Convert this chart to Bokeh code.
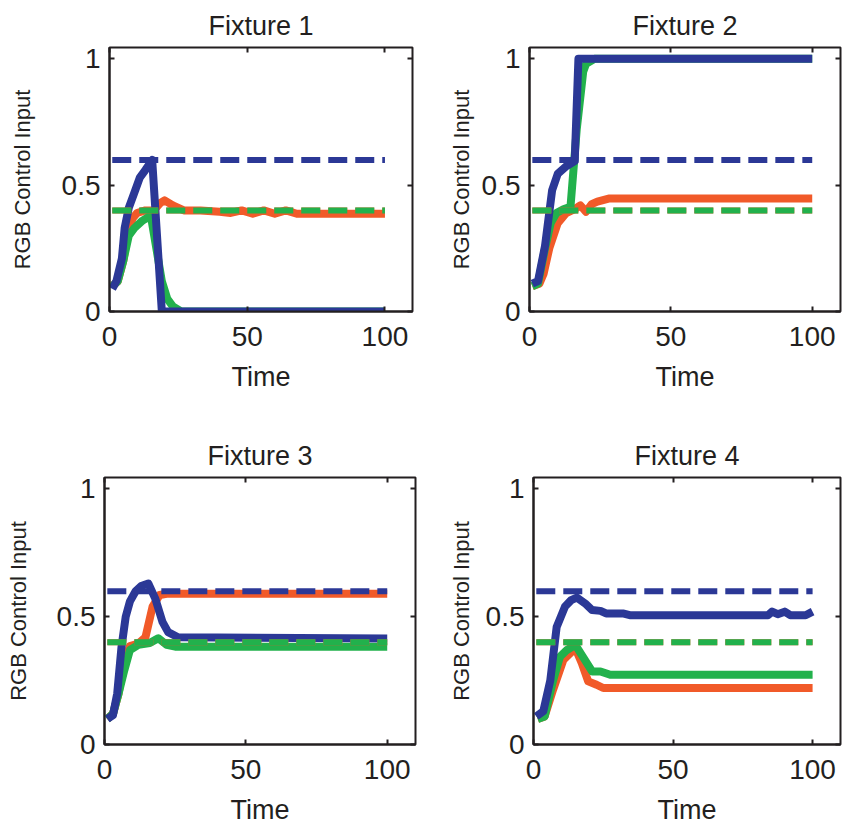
from bokeh.plotting import figure
from bokeh.layouts import column, row
from bokeh.models import Range1d, FixedTicker, LinearAxis, CustomJSTickFormatter
from bokeh.embed import file_html
from bokeh.resources import INLINE

# ---------------- data ----------------
titles = ["Fixture 1", "Fixture 2", "Fixture 3", "Fixture 4"]
x_ticks = [0, 50, 100]
y_ticks = [0, 0.5, 1]
target_t = [1, 100]
target_r = 0.4
target_g = 0.4
target_b = 0.6

# Fixture 1
f1_r_t = [1, 3, 5, 7, 8.5, 10, 13, 16, 18.5, 20, 23, 27, 33, 40, 44, 48, 52, 56, 60, 64, 68, 72, 100]
f1_r_y = [0.10, 0.12, 0.20, 0.33, 0.37, 0.39, 0.40, 0.40, 0.43, 0.44, 0.42, 0.40, 0.40, 0.395, 0.39, 0.40, 0.387, 0.40, 0.387, 0.40, 0.387, 0.387, 0.387]
f1_g_t = [1, 3, 5, 7, 9, 12, 15, 17, 19, 21, 23, 26, 100]
f1_g_y = [0.10, 0.12, 0.20, 0.30, 0.33, 0.36, 0.38, 0.25, 0.12, 0.05, 0.02, 0.0, 0.0]
f1_b_t = [1, 2.5, 4.5, 5.5, 7, 9, 11, 13, 15.5, 19, 100]
f1_b_y = [0.09, 0.12, 0.21, 0.33, 0.41, 0.47, 0.53, 0.56, 0.60, 0.0, 0.0]

# Fixture 2
f2_r_t = [1, 3.5, 5, 7, 10, 13, 16, 18, 20, 22, 24, 28, 100]
f2_r_y = [0.10, 0.11, 0.15, 0.25, 0.35, 0.39, 0.405, 0.42, 0.395, 0.425, 0.435, 0.447, 0.447]
f2_g_t = [1, 3, 5.5, 7.5, 9.5, 12, 14.5, 16.7, 19, 20, 23, 100]
f2_g_y = [0.10, 0.11, 0.25, 0.35, 0.39, 0.405, 0.415, 0.72, 0.95, 0.98, 1.0, 1.0]
f2_b_t = [1, 3, 5.5, 8, 10, 13, 16, 17.3, 100]
f2_b_y = [0.11, 0.12, 0.26, 0.48, 0.545, 0.575, 0.595, 1.0, 1.0]

# Fixture 3
f3_r_t = [1, 3, 5, 7, 9, 12, 14.5, 17, 19.5, 22, 100]
f3_r_y = [0.10, 0.12, 0.20, 0.33, 0.385, 0.395, 0.42, 0.54, 0.585, 0.59, 0.59]
f3_g_t = [1, 3, 5, 7, 9, 12, 16, 19, 22, 25, 100]
f3_g_y = [0.10, 0.12, 0.20, 0.29, 0.37, 0.39, 0.397, 0.416, 0.39, 0.383, 0.383]
f3_b_t = [1, 3, 4.5, 6, 7.5, 9, 11, 13, 15.5, 18, 20.5, 22.5, 26, 100]
f3_b_y = [0.10, 0.115, 0.20, 0.38, 0.50, 0.56, 0.60, 0.62, 0.63, 0.57, 0.48, 0.44, 0.42, 0.415]

# Fixture 4
f4_r_t = [1.5, 4, 7, 10.7, 15, 17.3, 19.6, 22.6, 25, 100]
f4_r_y = [0.10, 0.11, 0.214, 0.331, 0.377, 0.318, 0.247, 0.234, 0.221, 0.221]
f4_g_t = [1.5, 4, 7, 9.5, 12, 15, 18, 21, 24, 27.5, 100]
f4_g_y = [0.10, 0.11, 0.25, 0.344, 0.37, 0.39, 0.338, 0.286, 0.286, 0.273, 0.273]
f4_b_t = [1, 3.5, 6, 8.3, 11.3, 13.5, 15.5, 18.5, 21, 24, 26, 32, 34.5, 84, 85.5, 87.5, 90, 92, 97.5, 100]
f4_b_y = [0.11, 0.13, 0.25, 0.46, 0.54, 0.565, 0.575, 0.552, 0.526, 0.523, 0.513, 0.513, 0.506, 0.506, 0.52, 0.51, 0.52, 0.506, 0.506, 0.52]

RED = "#F15A29"
GREEN = "#22B14C"
BLUE = "#2B3896"
FONT = "Liberation Sans"
TXT = "#231F20"

series = [
    ((f1_r_t, f1_r_y), (f1_g_t, f1_g_y), (f1_b_t, f1_b_y)),
    ((f2_r_t, f2_r_y), (f2_g_t, f2_g_y), (f2_b_t, f2_b_y)),
    ((f3_r_t, f3_r_y), (f3_g_t, f3_g_y), (f3_b_t, f3_b_y)),
    ((f4_r_t, f4_r_y), (f4_g_t, f4_g_y), (f4_b_t, f4_b_y)),
]

# layout: (width, height, left, right, top, bottom, ylabel standoff)
geom = [
    (420, 430, 109, 8, 47, 119, 24),
    (422, 430, 109, 2, 47, 119, 5),
    (420, 400, 104, 5, 47, 86, 23),
    (422, 400, 113, 2, 47, 86, 9),
]

fmt_code = "return tick.toString();"


def make(i):
    w, h, l, r, t, b, ystand = geom[i]
    p = figure(width=w, height=h, output_backend="svg", toolbar_location=None,
               x_range=Range1d(0, 110), y_range=Range1d(0, 1.045),
               min_border_left=l, min_border_right=r, min_border_top=t, min_border_bottom=b,
               background_fill_color="white", border_fill_color="white")
    p.title.text = titles[i]
    p.title.text_font = FONT
    p.title.text_font_size = "27px"
    p.title.text_font_style = "normal"
    p.title.text_color = TXT
    p.title.align = "center"
    p.title.standoff = 14

    p.xgrid.grid_line_color = None
    p.ygrid.grid_line_color = None
    p.outline_line_color = "#231F20"
    p.outline_line_width = 2
    p.outline_line_alpha = 1

    p.xaxis.ticker = FixedTicker(ticks=x_ticks)
    p.yaxis.ticker = FixedTicker(ticks=y_ticks)
    p.xaxis.formatter = CustomJSTickFormatter(code=fmt_code)
    p.yaxis.formatter = CustomJSTickFormatter(code=fmt_code)
    p.xaxis.axis_label = "Time"
    p.yaxis.axis_label = "RGB Control Input"
    for ax in (p.xaxis, p.yaxis):
        ax.axis_line_width = 2
        ax.axis_line_color = "#231F20"
        ax.major_tick_in = 5
        ax.major_tick_out = 0
        ax.major_tick_line_width = 2
        ax.major_tick_line_color = "#231F20"
        ax.minor_tick_line_color = None
        ax.major_label_text_font = FONT
        ax.major_label_text_font_size = "28px"
        ax.major_label_text_color = TXT
        ax.axis_label_text_font = FONT
        ax.axis_label_text_font_style = "normal"
        ax.axis_label_text_color = TXT
    p.xaxis.axis_label_text_font_size = "27px"
    p.xaxis.major_label_standoff = 15
    p.xaxis.axis_label_standoff = 13
    p.yaxis.axis_label_text_font_size = "22px"
    p.yaxis.major_label_standoff = 9
    p.yaxis.axis_label_standoff = ystand

    # box-style inner ticks on top and right
    for loc, tk in (("above", x_ticks), ("right", y_ticks)):
        ax = LinearAxis(ticker=FixedTicker(ticks=tk), major_label_text_font_size="0px",
                        major_label_standoff=0, major_tick_in=5, major_tick_out=0,
                        major_tick_line_width=2, major_tick_line_color="#231F20",
                        minor_tick_line_color=None, axis_line_color=None)
        p.add_layout(ax, loc)

    (rt, ry), (gt, gy), (bt, by) = series[i]
    p.line(rt, ry, line_color=RED, line_width=8, line_join="round")
    p.line(gt, gy, line_color=GREEN, line_width=8, line_join="round")
    p.line(bt, by, line_color=BLUE, line_width=8, line_join="round")
    p.line(target_t, [target_r, target_r], line_color=RED, line_width=6, line_dash="19 8")
    p.line(target_t, [target_g, target_g], line_color=GREEN, line_width=6, line_dash="19 8")
    p.line(target_t, [target_b, target_b], line_color=BLUE, line_width=6, line_dash="19 8")
    return p


figs = [make(i) for i in range(4)]
layout = column(row(figs[0], figs[1]), row(figs[2], figs[3]))

open("out.html", "w").write(file_html(layout, INLINE))
